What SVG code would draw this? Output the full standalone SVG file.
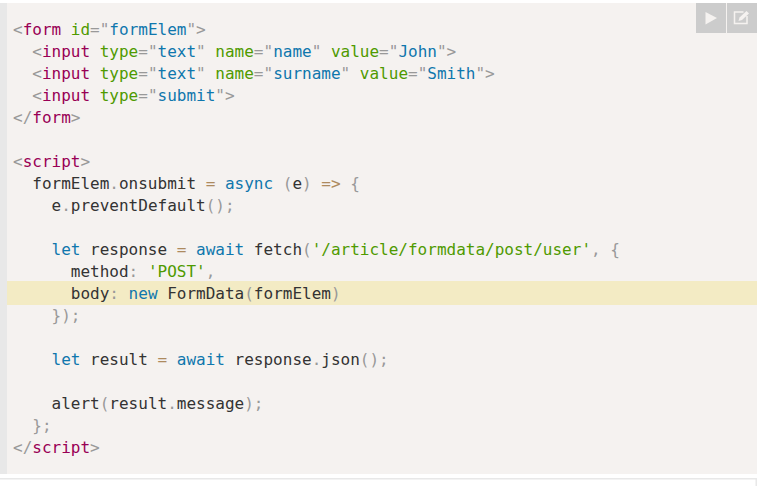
<svg xmlns="http://www.w3.org/2000/svg" width="767" height="486" viewBox="0 0 767 486">
<style>
text{font-family:"DejaVu Sans Mono","Liberation Mono",monospace;font-size:16px;fill:#333;white-space:pre}
.p{fill:#999}.t{fill:#905}.a{fill:#4f9a00}.v{fill:#0f77ad}.o{fill:#ad8a5e}.s{fill:#4f9a00}
.btn{fill:#ccc}
</style>
<rect width="767" height="486" fill="#fff"/>
<rect x="0" y="3" width="757" height="471" fill="#f5f2f0"/>
<rect x="0" y="3" width="7" height="471" fill="#e8e8e8"/>
<rect x="7" y="281" width="750" height="24" fill="#f3ebc4"/>
<rect x="0" y="478" width="757" height="1.5" fill="#e8e8e8"/>
<rect x="755.500" y="478" width="1.5" height="8" fill="#e8e8e8"/>
<rect class="btn" x="696" y="3" width="30" height="30"/>
<rect class="btn" x="727" y="3" width="30" height="30"/>
<polygon points="705.500,12 717,18 705.500,24.500" fill="#f5f2f0"/>
<path d="M747 16v7.500h-12.500v-11.500h9" fill="none" stroke="#f5f2f0" stroke-width="1.500"/>
<path d="M738.500 21l1-3.500 7-6.500 2.500 2.500-7 6.500z" fill="#f5f2f0"/>
<text x="13" y="35"><tspan class="p">&lt;</tspan><tspan class="t">form</tspan> <tspan class="a">id</tspan><tspan class="p">=</tspan><tspan class="p">"</tspan><tspan class="v">formElem</tspan><tspan class="p">"</tspan><tspan class="p">&gt;</tspan></text>
<text x="13" y="57">  <tspan class="p">&lt;</tspan><tspan class="t">input</tspan> <tspan class="a">type</tspan><tspan class="p">="</tspan><tspan class="v">text</tspan><tspan class="p">"</tspan> <tspan class="a">name</tspan><tspan class="p">="</tspan><tspan class="v">name</tspan><tspan class="p">"</tspan> <tspan class="a">value</tspan><tspan class="p">="</tspan><tspan class="v">John</tspan><tspan class="p">"&gt;</tspan></text>
<text x="13" y="79">  <tspan class="p">&lt;</tspan><tspan class="t">input</tspan> <tspan class="a">type</tspan><tspan class="p">="</tspan><tspan class="v">text</tspan><tspan class="p">"</tspan> <tspan class="a">name</tspan><tspan class="p">="</tspan><tspan class="v">surname</tspan><tspan class="p">"</tspan> <tspan class="a">value</tspan><tspan class="p">="</tspan><tspan class="v">Smith</tspan><tspan class="p">"&gt;</tspan></text>
<text x="13" y="101">  <tspan class="p">&lt;</tspan><tspan class="t">input</tspan> <tspan class="a">type</tspan><tspan class="p">="</tspan><tspan class="v">submit</tspan><tspan class="p">"&gt;</tspan></text>
<text x="13" y="123"><tspan class="p">&lt;/</tspan><tspan class="t">form</tspan><tspan class="p">&gt;</tspan></text>
<text x="13" y="167"><tspan class="p">&lt;</tspan><tspan class="t">script</tspan><tspan class="p">&gt;</tspan></text>
<text x="13" y="189">  formElem<tspan class="p">.</tspan>onsubmit <tspan class="o">=</tspan> <tspan class="v">async</tspan> <tspan class="p">(</tspan>e<tspan class="p">)</tspan> <tspan class="o">=&gt;</tspan> <tspan class="p">{</tspan></text>
<text x="13" y="211">    e<tspan class="p">.</tspan>preventDefault<tspan class="p">();</tspan></text>
<text x="13" y="255">    <tspan class="v">let</tspan> response <tspan class="o">=</tspan> <tspan class="v">await</tspan> fetch<tspan class="p">(</tspan><tspan class="s">'/article/formdata/post/user'</tspan><tspan class="p">,</tspan> <tspan class="p">{</tspan></text>
<text x="13" y="277">      method<tspan class="p">:</tspan> <tspan class="s">'POST'</tspan><tspan class="p">,</tspan></text>
<text x="13" y="299">      body<tspan class="p">:</tspan> <tspan class="v">new</tspan> FormData<tspan class="p">(</tspan>formElem<tspan class="p">)</tspan></text>
<text x="13" y="321">    <tspan class="p">});</tspan></text>
<text x="13" y="365">    <tspan class="v">let</tspan> result <tspan class="o">=</tspan> <tspan class="v">await</tspan> response<tspan class="p">.</tspan>json<tspan class="p">();</tspan></text>
<text x="13" y="409">    alert<tspan class="p">(</tspan>result<tspan class="p">.</tspan>message<tspan class="p">);</tspan></text>
<text x="13" y="431">  <tspan class="p">};</tspan></text>
<text x="13" y="453"><tspan class="p">&lt;/</tspan><tspan class="t">script</tspan><tspan class="p">&gt;</tspan></text>
</svg>
